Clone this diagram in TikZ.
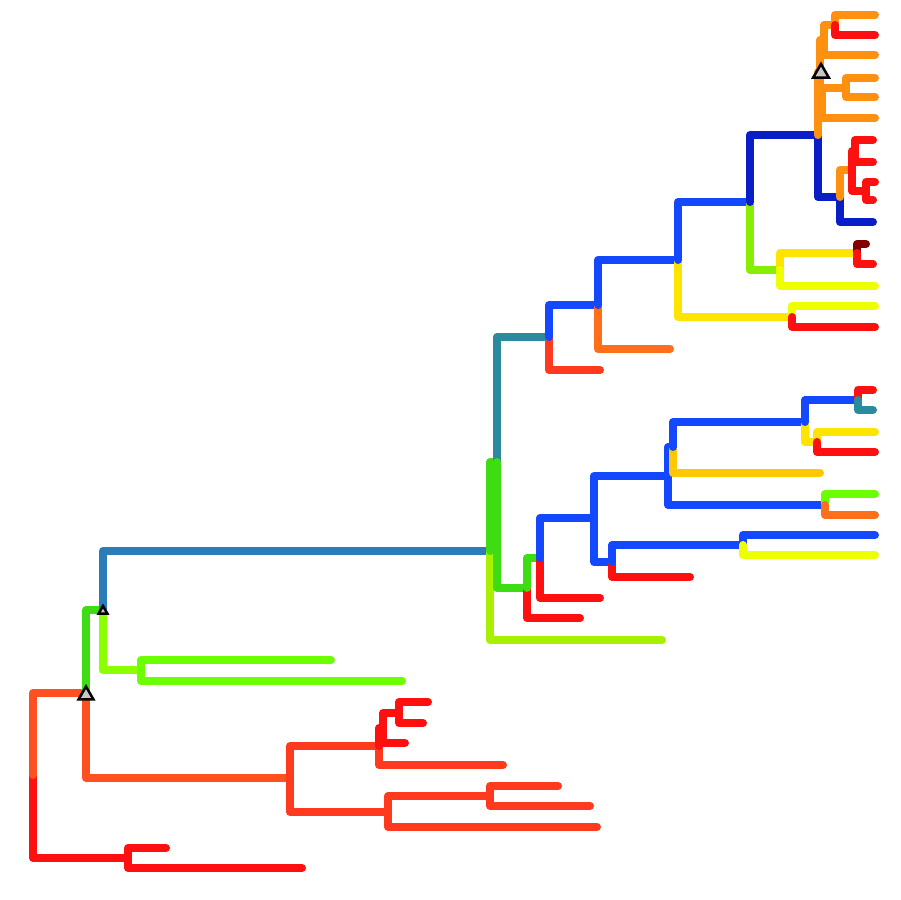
\documentclass[tikz,border=0pt]{standalone}
\usetikzlibrary{shapes.geometric}
\definecolor{cRed}{HTML}{FF1010}
\definecolor{cRedOr}{HTML}{FF3A1E}
\definecolor{cOrRed}{HTML}{FF5020}
\definecolor{cGreen}{HTML}{3EDC12}
\definecolor{cLime}{HTML}{6CFF00}
\definecolor{cLimeB}{HTML}{8CFF00}
\definecolor{cYelGr}{HTML}{A8F000}
\definecolor{cSteel}{HTML}{2A7DB8}
\definecolor{cTeal}{HTML}{2B8A9E}
\definecolor{cBlue}{HTML}{1448FF}
\definecolor{cNavy}{HTML}{0A1EC8}
\definecolor{cYellow}{HTML}{FFE400}
\definecolor{cYelLime}{HTML}{EEFF00}
\definecolor{cGold}{HTML}{FFC800}
\definecolor{cOrange}{HTML}{FF9010}
\definecolor{cOrDark}{HTML}{FF6E1A}
\definecolor{cMaroon}{HTML}{800000}
\definecolor{cZgreen}{HTML}{88EE00}
\tikzset{
    br/.style={draw=#1, line width=1.6mm, line cap=round, line join=round},
    tri/.style={draw=black, fill=black!22, line width=0.5mm, regular polygon, regular polygon sides=3, inner sep=0pt, minimum size=#1}
}

\begin{document}
\begin{tikzpicture}[x=0.02cm, y=-0.02cm]
  \useasboundingbox (0,0) rectangle (900,900);
  % internal nodes
  \coordinate (root) at (33,775);
  \coordinate (nA) at (86,693);
  \coordinate (nB) at (128,858);
  \coordinate (nC) at (103,610);
  \coordinate (nD) at (290,778);
  \coordinate (nF) at (141,670);
  \coordinate (nE) at (490,551);
  \coordinate (nX) at (497,462);
  \coordinate (nG) at (549,337);
  \coordinate (nT) at (598,305);
  \coordinate (nU) at (678,260);
  \coordinate (nV) at (750,202);
  \coordinate (nW) at (792,317);
  \coordinate (nY) at (818,135);
  \coordinate (nZ) at (780,270);
  \coordinate (nZa) at (857,253);
  \coordinate (nAB) at (820,72);
  \coordinate (nFF) at (824,40);
  \coordinate (nHH) at (835,25);
  \coordinate (nGG) at (822,103);
  \coordinate (nII) at (846,88);
  \coordinate (nBB) at (840,197);
  \coordinate (nCC) at (852,170);
  \coordinate (nDD) at (855,151);
  \coordinate (nEE) at (866,191);
  \coordinate (nH) at (527,588);
  \coordinate (nI) at (540,558);
  \coordinate (nJ) at (594,518);
  \coordinate (nK) at (668,476);
  \coordinate (nL) at (612,562);
  \coordinate (nM) at (743,545);
  \coordinate (nN) at (673,447);
  \coordinate (nO) at (825,505);
  \coordinate (nP) at (805,422);
  \coordinate (nQ) at (858,400);
  \coordinate (nS) at (817,442);
  \coordinate (nJ1) at (379,746);
  \coordinate (nJ2) at (388,812);
  \coordinate (nM1) at (383,728);
  \coordinate (nK1) at (399,713);
  \coordinate (nN1) at (490,796);
  % leaves
  \coordinate (lBa) at (166,848);
  \coordinate (lBb) at (302,868);
  \coordinate (lFa) at (331,660);
  \coordinate (lFb) at (402,681);
  \coordinate (lE) at (662,640);
  \coordinate (lG) at (600,370);
  \coordinate (lT) at (670,349);
  \coordinate (lWa) at (875,306);
  \coordinate (lWb) at (875,327);
  \coordinate (lZaa) at (866,244);
  \coordinate (lZab) at (873,264);
  \coordinate (lZ) at (875,286);
  \coordinate (lHHa) at (875,15);
  \coordinate (lHHb) at (875,35);
  \coordinate (lFF) at (875,55);
  \coordinate (lIIa) at (875,78);
  \coordinate (lIIb) at (875,97);
  \coordinate (lGG) at (875,118);
  \coordinate (lBB) at (873,222);
  \coordinate (lDDa) at (873,140);
  \coordinate (lDDb) at (873,162);
  \coordinate (lEEa) at (875,182);
  \coordinate (lEEb) at (873,200);
  \coordinate (lH) at (580,618);
  \coordinate (lI) at (600,598);
  \coordinate (lL) at (690,577);
  \coordinate (lMa) at (875,535);
  \coordinate (lMb) at (875,555);
  \coordinate (lN) at (820,473);
  \coordinate (lOa) at (875,494);
  \coordinate (lOb) at (875,515);
  \coordinate (lQa) at (873,390);
  \coordinate (lQb) at (873,410);
  \coordinate (lSa) at (875,432);
  \coordinate (lSb) at (875,452);
  \coordinate (lJ1) at (503,765);
  \coordinate (lM1) at (405,743);
  \coordinate (lK1a) at (428,702);
  \coordinate (lK1b) at (423,723);
  \coordinate (lJ2) at (597,827);
  \coordinate (lN1a) at (558,786);
  \coordinate (lN1b) at (590,806);
  % branches
  \draw[br=cRed] (root) |- (nB);
  \draw[br=cRed] (nB) |- (lBa);
  \draw[br=cRed] (nB) |- (lBb);
  \draw[br=cOrRed] (root) |- (nA);
  \draw[br=cOrRed] (nA) |- (nD);
  \draw[br=cRedOr] (nD) |- (nJ1);
  \draw[br=cRedOr] (nD) |- (nJ2);
  \draw[br=cRedOr] (nJ1) |- (lJ1);
  \draw[br=cRed] (nJ1) |- (nM1);
  \draw[br=cRed] (nM1) |- (lM1);
  \draw[br=cRed] (nM1) |- (nK1);
  \draw[br=cRed] (nK1) |- (lK1a);
  \draw[br=cRed] (nK1) |- (lK1b);
  \draw[br=cRedOr] (nJ2) |- (nN1);
  \draw[br=cRedOr] (nJ2) |- (lJ2);
  \draw[br=cRedOr] (nN1) |- (lN1a);
  \draw[br=cRedOr] (nN1) |- (lN1b);
  \draw[br=cGreen] (nA) |- (nC);
  \draw[br=cLimeB] (nC) |- (nF);
  \draw[br=cLime] (nF) |- (lFa);
  \draw[br=cLime] (nF) |- (lFb);
  \draw[br=cSteel] (nC) |- (nE);
  \draw[br=cYelGr] (nE) |- (lE);
  \draw[br=cGreen] (nE) |- (nX);
  \draw[br=cTeal] (nX) |- (nG);
  \draw[br=cGreen] (nX) |- (nH);
  \draw[br=cRedOr] (nG) |- (lG);
  \draw[br=cBlue] (nG) |- (nT);
  \draw[br=cOrDark] (nT) |- (lT);
  \draw[br=cBlue] (nT) |- (nU);
  \draw[br=cYellow] (nU) |- (nW);
  \draw[br=cYelLime] (nW) |- (lWa);
  \draw[br=cRed] (nW) |- (lWb);
  \draw[br=cBlue] (nU) |- (nV);
  \draw[br=cZgreen] (nV) |- (nZ);
  \draw[br=cYellow] (nZ) |- (nZa);
  \draw[br=cYelLime] (nZ) |- (lZ);
  \draw[br=cMaroon] (nZa) |- (lZaa);
  \draw[br=cRed] (nZa) |- (lZab);
  \draw[br=cNavy] (nV) |- (nY);
  \draw[br=cNavy] (nY) |- (nBB);
  \draw[br=cNavy] (nBB) |- (lBB);
  \draw[br=cOrange] (nBB) |- (nCC);
  \draw[br=cRed] (nCC) |- (nDD);
  \draw[br=cRed] (nCC) |- (nEE);
  \draw[br=cRed] (nDD) |- (lDDa);
  \draw[br=cRed] (nDD) |- (lDDb);
  \draw[br=cRed] (nEE) |- (lEEa);
  \draw[br=cRed] (nEE) |- (lEEb);
  \draw[br=cOrange] (nY) |- (nAB);
  \draw[br=cOrange] (nAB) |- (nGG);
  \draw[br=cOrange] (nGG) |- (lGG);
  \draw[br=cOrange] (nGG) |- (nII);
  \draw[br=cOrange] (nII) |- (lIIa);
  \draw[br=cOrange] (nII) |- (lIIb);
  \draw[br=cOrange] (nAB) |- (nFF);
  \draw[br=cOrange] (nFF) |- (lFF);
  \draw[br=cOrange] (nFF) |- (nHH);
  \draw[br=cOrange] (nHH) |- (lHHa);
  \draw[br=cRed] (nHH) |- (lHHb);
  \draw[br=cRed] (nH) |- (lH);
  \draw[br=cGreen] (nH) |- (nI);
  \draw[br=cRed] (nI) |- (lI);
  \draw[br=cBlue] (nI) |- (nJ);
  \draw[br=cBlue] (nJ) |- (nL);
  \draw[br=cRed] (nL) |- (lL);
  \draw[br=cBlue] (nL) |- (nM);
  \draw[br=cBlue] (nM) |- (lMa);
  \draw[br=cYelLime] (nM) |- (lMb);
  \draw[br=cBlue] (nJ) |- (nK);
  \draw[br=cBlue] (nK) |- (nO);
  \draw[br=cLime] (nO) |- (lOa);
  \draw[br=cOrDark] (nO) |- (lOb);
  \draw[br=cBlue] (nK) |- (nN);
  \draw[br=cGold] (nN) |- (lN);
  \draw[br=cBlue] (nN) |- (nP);
  \draw[br=cYellow] (nP) |- (nS);
  \draw[br=cYellow] (nS) |- (lSa);
  \draw[br=cRed] (nS) |- (lSb);
  \draw[br=cBlue] (nP) |- (nQ);
  \draw[br=cRed] (nQ) |- (lQa);
  \draw[br=cTeal] (nQ) |- (lQb);
  % markers
  \node[tri=0.34cm] at (86,695) {};
  \node[tri=0.2cm] at (103,611) {};
  \node[tri=0.36cm] at (821,73) {};
\end{tikzpicture}
\end{document}
